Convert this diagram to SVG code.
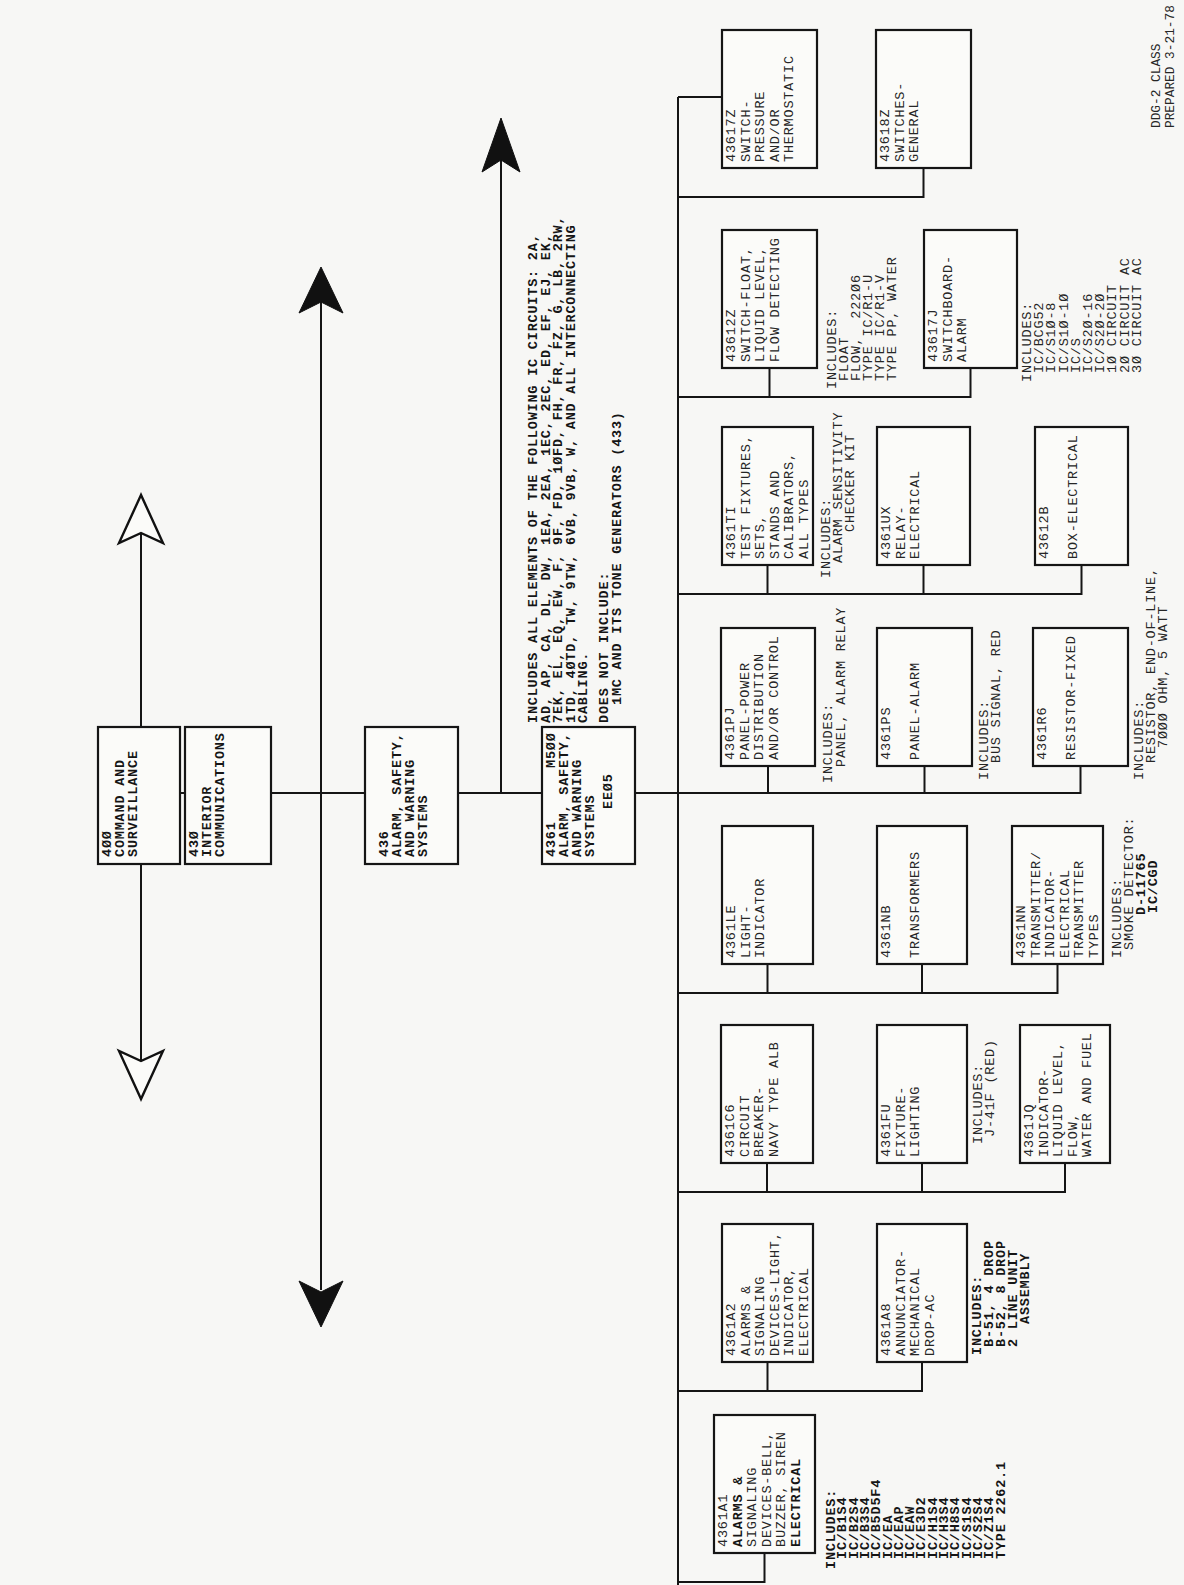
<svg xmlns="http://www.w3.org/2000/svg" width="1184" height="1585" viewBox="0 0 1184 1585">
<style>
.bg{fill:#f7f7f5}
.bx{fill:#fbfbf9;stroke:#151515;stroke-width:2.2}
.ln{stroke:#151515;stroke-width:2;fill:none}
.ah{fill:#111;stroke:#111;stroke-width:1}
.ao{fill:#fbfbf9;stroke:#111;stroke-width:2.4;stroke-linejoin:miter}
text{font-family:"Liberation Mono","DejaVu Sans Mono",monospace;font-size:13.5px;letter-spacing:0.8px;fill:#262626}
.b{font-weight:bold;fill:#151515}
.sm{font-size:12.8px;letter-spacing:0}
</style>
<rect class="bg" x="0" y="0" width="1184" height="1585"/>
<g transform="translate(0,1585) rotate(-90)">
<g id="connectors">
<line class="ln" x1="792" y1="100" x2="792" y2="678"/>
<line class="ln" x1="0" y1="678" x2="1488" y2="678"/>
<line class="ln" x1="1488" y1="678" x2="1488" y2="722"/>
<line class="ln" x1="792" y1="501" x2="1430" y2="501"/>
<path class="ah" d="M1467,501 L1413,482 L1425,501 L1413,520 Z"/>
<line class="ln" x1="295" y1="321" x2="1285" y2="321"/>
<path class="ah" d="M1318,321 L1272,299 L1283,321 L1272,343 Z"/>
<path class="ah" d="M258,321 L304,299 L293,321 L304,343 Z"/>
<line class="ln" x1="524" y1="141" x2="1052" y2="141"/>
<path class="ao" d="M1090,141 L1042,119 L1052,141 L1042,163 Z"/>
<path class="ao" d="M486,141 L534,119 L524,141 L534,163 Z"/>
<polyline class="ln" points="3,678 3,764.5 32,764.5"/>
<polyline class="ln" points="194,678 194,922 223,922"/>
<line class="ln" x1="194" y1="767.5" x2="223" y2="767.5"/>
<polyline class="ln" points="393,678 393,1065 422,1065"/>
<line class="ln" x1="393" y1="767" x2="422" y2="767"/>
<line class="ln" x1="393" y1="922" x2="422" y2="922"/>
<polyline class="ln" points="592,678 592,1057.5 621,1057.5"/>
<line class="ln" x1="592" y1="767.5" x2="621" y2="767.5"/>
<line class="ln" x1="592" y1="922" x2="621" y2="922"/>
<polyline class="ln" points="792,678 792,1080.5 821,1080.5"/>
<line class="ln" x1="792" y1="768" x2="821" y2="768"/>
<line class="ln" x1="792" y1="924.5" x2="821" y2="924.5"/>
<polyline class="ln" points="991,678 991,1081.5 1020,1081.5"/>
<line class="ln" x1="991" y1="767.5" x2="1020" y2="767.5"/>
<line class="ln" x1="991" y1="923.5" x2="1020" y2="923.5"/>
<polyline class="ln" points="1188,678 1188,970.5 1217,970.5"/>
<line class="ln" x1="1188" y1="769.5" x2="1217" y2="769.5"/>
<polyline class="ln" points="1388,678 1388,923.5 1417,923.5"/>
</g>
<g id="n400"><rect class="bx" x="721" y="98" width="137" height="82"/>
<text class="b" x="728" y="111">4ØØ</text><text class="b" x="728" y="124">COMMAND AND</text><text class="b" x="728" y="137">SURVEILLANCE</text></g>
<g id="n430"><rect class="bx" x="721" y="185" width="137" height="86"/>
<text class="b" x="728" y="198">43Ø</text><text class="b" x="728" y="211">INTERIOR</text><text class="b" x="728" y="224">COMMUNICATIONS</text></g>
<g id="n436"><rect class="bx" x="721" y="365" width="137" height="93"/>
<text class="b" x="728" y="388">436</text><text class="b" x="728" y="401">ALARM, SAFETY,</text><text class="b" x="728" y="414">AND WARNING</text><text class="b" x="728" y="427">SYSTEMS</text></g>
<g id="n4361"><rect class="bx" x="721" y="542" width="137" height="93"/>
<text class="b" x="728" y="555" xml:space="preserve">4361      M5ØØ</text><text class="b" x="728" y="568">ALARM, SAFETY,</text><text class="b" x="728" y="581">AND WARNING</text><text class="b" x="728" y="594">SYSTEMS</text>
<text class="b" x="776" y="612">EEØ5</text></g>
<g id="note4361">
<text class="b" x="862" y="537">INCLUDES ALL ELEMENTS OF THE FOLLOWING IC CIRCUITS: 2A,</text>
<text class="b" x="862" y="549.5">AD, AP, CA, DL, DW, 1EA, 2EA, 1EC, 2EC, ED, EF, EJ, EK,</text>
<text class="b" x="862" y="562">7EK, EL, EQ, EW, F, 9F, FD, 1ØFD, FH, FR, FZ, G, LB, 2RW,</text>
<text class="b" x="862" y="574.5">1TD, 4ØTD, TW, 9TW, 6VB, 9VB, W, AND ALL INTERCONNECTING</text>
<text class="b" x="862" y="587">CABLING.</text>
<text class="b" x="862" y="608">DOES NOT INCLUDE:</text>
<text class="b" x="880" y="620.5">1MC AND ITS TONE GENERATORS (433)</text>
</g>
<g id="n4361A1"><rect class="bx" x="32" y="714" width="138" height="101"/>
<text x="38" y="727">4361A1</text><text class="b" x="38" y="741.5">ALARMS &amp;</text><text x="38" y="756">SIGNALING</text><text x="38" y="770.5">DEVICES-BELL,</text><text x="38" y="785">BUZZER, SIREN</text><text class="b" x="38" y="799.5">ELECTRICAL</text>
<text class="b" x="16" y="835">INCLUDES:</text>
<text class="b" x="26" y="846.3">IC/B1S4</text><text class="b" x="26" y="857.6">IC/B2S4</text><text class="b" x="26" y="868.9">IC/B3S4</text><text class="b" x="26" y="880.2">IC/B5D5F4</text><text class="b" x="26" y="891.5">IC/EA</text><text class="b" x="26" y="902.8">IC/EAP</text><text class="b" x="26" y="914.1">IC/EAW</text><text class="b" x="26" y="925.4">IC/E3D2</text><text class="b" x="26" y="936.7">IC/H1S4</text><text class="b" x="26" y="948">IC/H3S4</text><text class="b" x="26" y="959.3">IC/H8S4</text><text class="b" x="26" y="970.6">IC/S1S4</text><text class="b" x="26" y="981.9">IC/S2S4</text><text class="b" x="26" y="993.2">IC/Z1S4</text><text class="b" x="26" y="1004.5">TYPE 2262.1</text></g>
<g id="n4361A2"><rect class="bx" x="223" y="722" width="138" height="91"/>
<text x="229" y="735">4361A2</text><text x="229" y="749.5">ALARMS &amp;</text><text x="229" y="764">SIGNALING</text><text x="229" y="778.5">DEVICES-LIGHT,</text><text x="229" y="793">INDICATOR,</text><text x="229" y="807.5">ELECTRICAL</text></g>
<g id="n4361A8"><rect class="bx" x="223" y="877" width="138" height="90"/>
<text x="229" y="890">4361A8</text><text x="229" y="904.5">ANNUNCIATOR-</text><text x="229" y="919">MECHANICAL</text><text x="229" y="933.5">DROP-AC</text>
<text class="b" x="230" y="981">INCLUDES:</text><text class="b" x="238" y="993">B-51, 4 DROP</text><text class="b" x="238" y="1005">B-52, 8 DROP</text><text class="b" x="238" y="1017">2 LINE UNIT</text><text class="b" x="261" y="1029">ASSEMBLY</text></g>
<g id="n4361C6"><rect class="bx" x="422" y="721" width="138" height="92"/>
<text x="428" y="734">4361C6</text><text x="428" y="748.5">CIRCUIT</text><text x="428" y="763">BREAKER-</text><text x="428" y="777.5">NAVY TYPE ALB</text></g>
<g id="n4361FU"><rect class="bx" x="422" y="877" width="138" height="90"/>
<text x="428" y="890">4361FU</text><text x="428" y="904.5">FIXTURE-</text><text x="428" y="919">LIGHTING</text>
<text x="441" y="982">INCLUDES:</text><text x="448" y="994">J-41F (RED)</text></g>
<g id="n4361JQ"><rect class="bx" x="422" y="1020" width="138" height="90"/>
<text x="428" y="1033">4361JQ</text><text x="428" y="1047.5">INDICATOR-</text><text x="428" y="1062">LIQUID LEVEL,</text><text x="428" y="1076.5">FLOW,</text><text x="428" y="1091">WATER AND FUEL</text></g>
<g id="n4361LE"><rect class="bx" x="621" y="722" width="138" height="91"/>
<text x="627" y="735">4361LE</text><text x="627" y="749.5">LIGHT-</text><text x="627" y="764">INDICATOR</text></g>
<g id="n4361NB"><rect class="bx" x="621" y="877" width="138" height="90"/>
<text x="627" y="890">4361NB</text><text x="627" y="919">TRANSFORMERS</text></g>
<g id="n4361NN"><rect class="bx" x="621" y="1012" width="138" height="91"/>
<text x="627" y="1025">4361NN</text><text x="627" y="1039.5">TRANSMITTER/</text><text x="627" y="1054">INDICATOR-</text><text x="627" y="1068.5">ELECTRICAL</text><text x="627" y="1083">TRANSMITTER</text><text x="627" y="1097.5">TYPES</text>
<text x="627" y="1121">INCLUDES:</text><text x="635" y="1133">SMOKE DETECTOR:</text><text class="b" x="670" y="1145">D-11765</text><text class="b" x="672" y="1157">IC/CGD</text></g>
<g id="n4361PJ"><rect class="bx" x="819" y="721" width="138" height="94"/>
<text x="825" y="734">4361PJ</text><text x="825" y="748.5">PANEL-POWER</text><text x="825" y="763">DISTRIBUTION</text><text x="825" y="777.5">AND/OR CONTROL</text>
<text x="802" y="832">INCLUDES:</text><text x="818" y="845">PANEL, ALARM RELAY</text></g>
<g id="n4361PS"><rect class="bx" x="819" y="877" width="138" height="95"/>
<text x="825" y="890">4361PS</text><text x="825" y="919">PANEL-ALARM</text>
<text x="805" y="988">INCLUDES:</text><text x="822" y="1000">BUS SIGNAL, RED</text></g>
<g id="n4361R6"><rect class="bx" x="819" y="1033" width="138" height="95"/>
<text x="825" y="1046">4361R6</text><text x="825" y="1075">RESISTOR-FIXED</text>
<text x="805" y="1143">INCLUDES:</text><text x="822" y="1155">RESISTOR, END-OF-LINE,</text><text x="837" y="1167">7ØØØ OHM, 5 WATT</text></g>
<g id="n4361TI"><rect class="bx" x="1020" y="722" width="138" height="91"/>
<text x="1026" y="735">4361TI</text><text x="1026" y="749.5">TEST FIXTURES,</text><text x="1026" y="764">SETS,</text><text x="1026" y="778.5">STANDS AND</text><text x="1026" y="793">CALIBRATORS,</text><text x="1026" y="807.5">ALL TYPES</text>
<text x="1007" y="830">INCLUDES:</text><text x="1022" y="842">ALARM SENSITIVITY</text><text x="1053" y="854">CHECKER KIT</text></g>
<g id="n4361UX"><rect class="bx" x="1020" y="877" width="138" height="93"/>
<text x="1026" y="890">4361UX</text><text x="1026" y="904.5">RELAY-</text><text x="1026" y="919">ELECTRICAL</text></g>
<g id="n43612B"><rect class="bx" x="1020" y="1035" width="138" height="93"/>
<text x="1026" y="1048">43612B</text><text x="1026" y="1077">BOX-ELECTRICAL</text></g>
<g id="n43612Z"><rect class="bx" x="1217" y="722" width="138" height="95"/>
<text x="1223" y="735">43612Z</text><text x="1223" y="749.5">SWITCH-FLOAT,</text><text x="1223" y="764">LIQUID LEVEL,</text><text x="1223" y="778.5">FLOW DETECTING</text>
<text x="1196" y="836">INCLUDES:</text><text x="1204" y="848">FLOAT</text><text x="1204" y="860" xml:space="preserve">FLOW,  222Ø6</text><text x="1204" y="872">TYPE IC/R1-U</text><text x="1204" y="884">TYPE IC/R1-V</text><text x="1204" y="896">TYPE PP, WATER</text></g>
<g id="n43617J"><rect class="bx" x="1217" y="924" width="138" height="93"/>
<text x="1223" y="937">43617J</text><text x="1223" y="951.5">SWITCHBOARD-</text><text x="1223" y="966">ALARM</text>
<text x="1203" y="1031">INCLUDES:</text><text x="1212" y="1043.2">IC/BCG52</text><text x="1212" y="1055.4">IC/S1Ø-8</text><text x="1212" y="1067.6">IC/S1Ø-1Ø</text><text x="1212" y="1079.8">IC/S</text><text x="1212" y="1092">IC/S2Ø-16</text><text x="1212" y="1104.2">IC/S2Ø-2Ø</text><text x="1212" y="1116.4">1Ø CIRCUIT</text><text x="1212" y="1128.6">2Ø CIRCUIT AC</text><text x="1212" y="1140.8">3Ø CIRCUIT AC</text></g>
<g id="n43617Z"><rect class="bx" x="1417" y="722" width="138" height="95"/>
<text x="1423" y="735">43617Z</text><text x="1423" y="749.5">SWITCH-</text><text x="1423" y="764">PRESSURE</text><text x="1423" y="778.5">AND/OR</text><text x="1423" y="793">THERMOSTATIC</text></g>
<g id="n43618Z"><rect class="bx" x="1417" y="876" width="138" height="95"/>
<text x="1423" y="889">43618Z</text><text x="1423" y="903.5">SWITCHES-</text><text x="1423" y="918">GENERAL</text></g>
<g id="footer"><text class="sm" x="1457" y="1160">DDG-2 CLASS</text><text class="sm" x="1457" y="1174">PREPARED 3-21-78</text></g>
</g>
</svg>
